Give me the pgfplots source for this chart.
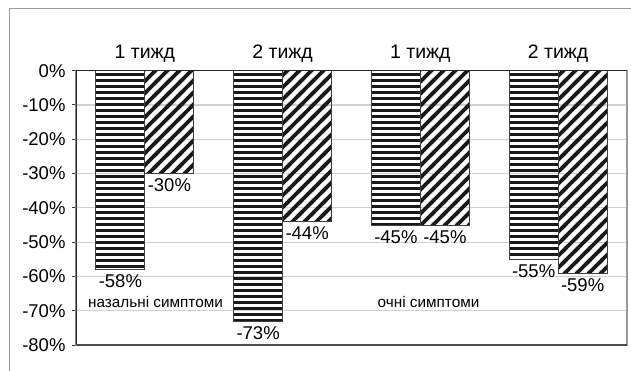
\documentclass[border=0pt]{standalone}
\usepackage{pgfplots}
\pgfplotsset{compat=1.18}
\usepackage{fontspec}
\setmainfont{Liberation Sans}
\usetikzlibrary{patterns}

% horizontal stripes, cells overlap sideways so no seams show
\pgfdeclarepatternformonly{hstripes}{\pgfqpoint{-2pt}{0pt}}{\pgfqpoint{12pt}{6pt}}{\pgfqpoint{10pt}{6pt}}{%
  \pgfpathrectangle{\pgfqpoint{-2pt}{0pt}}{\pgfqpoint{14pt}{3.1pt}}%
  \pgfusepath{fill}}
% diagonal stripes rising to the right
\pgfdeclarepatternformonly{dstripes}{\pgfqpoint{-1pt}{-1pt}}{\pgfqpoint{13pt}{13pt}}{\pgfqpoint{12pt}{12pt}}{%
  \pgfsetlinewidth{3.8pt}%
  \pgfpathmoveto{\pgfqpoint{-2pt}{-2pt}}\pgfpathlineto{\pgfqpoint{14pt}{14pt}}%
  \pgfpathmoveto{\pgfqpoint{-2pt}{10pt}}\pgfpathlineto{\pgfqpoint{4pt}{16pt}}%
  \pgfpathmoveto{\pgfqpoint{10pt}{-2pt}}\pgfpathlineto{\pgfqpoint{16pt}{4pt}}%
  \pgfusepath{stroke}}

\begin{document}
\begin{tikzpicture}[x=1pt,y=1pt]
\useasboundingbox (-76,-25) rectangle (555,345);
% outer frame
\draw[color=black!40, line width=1pt] (-66,-40) -- (-66,336) -- (600,336);
\begin{axis}[
  at={(0,0)}, anchor=south west,
  scale only axis, width=551pt, height=274.3pt,
  ymin=-80, ymax=0, xmin=-0.5, xmax=3.5,
  ybar=0pt, bar width=49pt,
  /pgf/number format/assume math mode=true,
  ytick={-80,-70,...,0},
  yticklabel={\pgfmathprintnumber{\tick}\%},
  y tick label style={font=\fontsize{18.5}{20}\selectfont, xshift=-3pt},
  ytick pos=left, tick align=outside, major tick length=4pt,
  ytick style={black!80, line width=1pt},
  xtick={0,1,2,3},
  xticklabels={1 тижд,2 тижд,1 тижд,2 тижд},
  xticklabel pos=right,
  x tick label style={font=\fontsize{19.5}{21}\selectfont, yshift=1pt},
  major x tick style={draw=none},
  ymajorgrids, grid style={black!18, line width=1.2pt},
  axis line style={black!40, line width=1.2pt},
  point meta=y,
  nodes near coords={\pgfmathprintnumber{\pgfplotspointmeta}\%},
  every node near coord/.append style={font=\fontsize{18.5}{20}\selectfont, text=black, anchor=north, yshift=-1.5pt},
]
% horizontal stripes
\addplot[draw=black!75, line width=0.9pt, pattern=hstripes, pattern color=black!90]
  coordinates {(0,-58) (1,-73) (2,-45) (3,-55)};
% diagonal stripes
\addplot[draw=black!75, line width=0.9pt, pattern=dstripes, pattern color=black!90]
  coordinates {(0,-30) (1,-44) (2,-45) (3,-59)};

\node[font=\fontsize{15.3}{17}\selectfont] at (axis cs:0.077,-67.4) {назальні симптоми};
\node[font=\fontsize{15.3}{17}\selectfont] at (axis cs:2.059,-67.4) {очні симптоми};

\draw[black!85, line width=1.2pt] (rel axis cs:0,0) -- (rel axis cs:0,1) -- (rel axis cs:1,1);
\draw[black!70, line width=1.2pt] (rel axis cs:0,0) -- (rel axis cs:1,0);
\end{axis}
\end{tikzpicture}
\end{document}
